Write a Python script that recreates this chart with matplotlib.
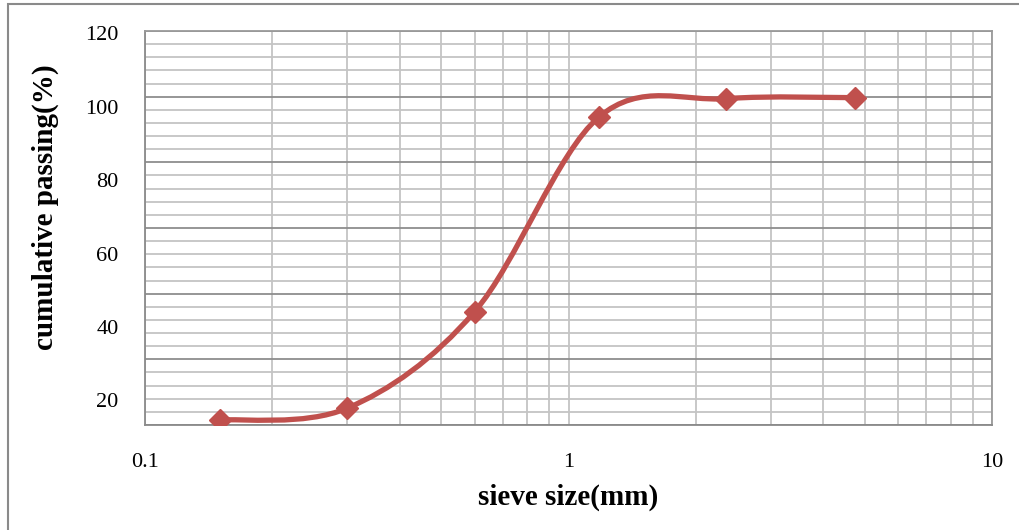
import numpy as np
import matplotlib
matplotlib.use('Agg')
import matplotlib.pyplot as plt
from matplotlib.path import Path
from matplotlib.patches import PathPatch, Rectangle
from matplotlib.ticker import MultipleLocator, LogLocator, FixedLocator, FixedFormatter

# sieve analysis data
sieve_mm = [0.15, 0.3, 0.6, 1.18, 2.36, 4.75]
passing = [1.5, 5.1, 34.5, 93.8, 99.4, 99.7]
x_ticks = [0.1, 1, 10]
x_tick_labels = ['0.1', '1', '10']
y_ticks = [20, 40, 60, 80, 100, 120]

plt.rcParams['font.family'] = ['Liberation Serif', 'DejaVu Serif']
red = '#C0504D'

fig = plt.figure(figsize=(10.2, 5.3), dpi=100)

# outer chart border
fig.patches.append(Rectangle((8 / 1020, -0.1), 1.2, 0.1 + 1 - 4 / 530,
                             transform=fig.transFigure, fill=False,
                             ec='#8a8a8a', lw=1.5))

ax = fig.add_axes([145 / 1020, 1 - 425 / 530, 847 / 1020, 394 / 530])
ax.set_xscale('log')
ax.set_xlim(0.1, 10)
ax.set_ylim(0, 120)
ax.xaxis.set_major_locator(FixedLocator(x_ticks))
ax.xaxis.set_major_formatter(FixedFormatter(x_tick_labels))
ax.xaxis.set_minor_locator(LogLocator(base=10, subs=range(2, 10)))
ax.xaxis.set_minor_formatter(FixedFormatter([]))
ax.yaxis.set_major_locator(MultipleLocator(20))
ax.yaxis.set_minor_locator(MultipleLocator(4))

ax.grid(which='minor', color='#c4c4c4', lw=1.3)
ax.grid(axis='x', which='major', color='#c4c4c4', lw=1.3)
ax.grid(axis='y', which='major', color='#8e8e8e', lw=1.3)
for s in ax.spines.values():
    s.set_color('#9a9a9a')
    s.set_linewidth(1.3)
ax.spines['left'].set_color('#8a8a8a')
ax.spines['bottom'].set_color('#8a8a8a')

ax.tick_params(axis='x', which='both', length=0, pad=20, labelsize=16)
ax.tick_params(axis='y', which='both', length=0, labelleft=False)

# value labels sit slightly off the gridlines, as in the source chart
ax2 = ax.twinx()
ax2.yaxis.tick_left()
ax2.set_ylim(13.27, 120.63)
ax2.set_yticks(y_ticks)
ax2.tick_params(axis='y', length=0, pad=19, labelsize=16)
for s in ax2.spines.values():
    s.set_visible(False)

# smoothed line (Excel style bezier through the points, in log-x space)
pts = np.column_stack([np.log10(sieve_mm), passing])
ext = np.vstack([pts[0], pts, pts[-1]])
verts = [pts[0]]
codes = [Path.MOVETO]
for i in range(len(pts) - 1):
    p0, p1, p2, p3 = ext[i], ext[i + 1], ext[i + 2], ext[i + 3]
    verts += [p1 + (p2 - p0) / 6, p2 - (p3 - p1) / 6, p2]
    codes += [Path.CURVE4] * 3
verts = np.array(verts)
verts[:, 0] = 10 ** verts[:, 0]
ax.add_patch(PathPatch(Path(verts, codes), fill=False, ec=red, lw=3.8,
                       transform=ax.transData, zorder=3, capstyle='round'))

ax.plot(sieve_mm, passing, ls='none', marker='D', ms=11.5, color=red, zorder=4)

ax.set_xlabel('sieve size(mm)', fontsize=21, fontweight='bold')
ax.xaxis.set_label_coords(0.5, -0.183)
ax.xaxis.label.set_va('center')
ax.set_ylabel('cumulative passing(%)', fontsize=21, fontweight='bold')
ax.yaxis.set_label_coords(-0.118, 0.553)
ax.yaxis.label.set_va('center')

fig.savefig('out.png', dpi=100)
